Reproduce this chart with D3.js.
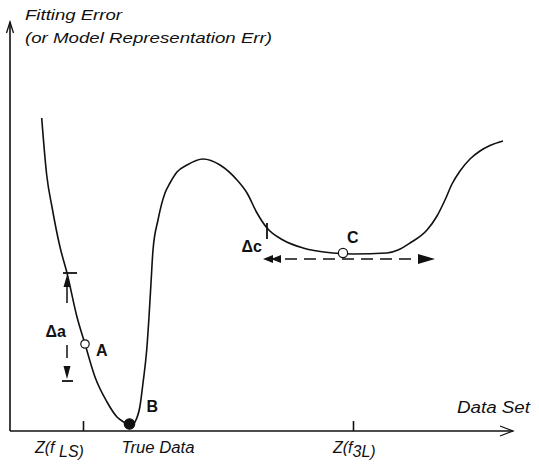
<!DOCTYPE html>
<html><head><meta charset="utf-8">
<script src="https://cdn.jsdelivr.net/npm/d3@7"></script>
<style>
body{margin:0;background:#fff}
svg{display:block}
text{font-family:"Liberation Sans",Arial,Helvetica,sans-serif;fill:#111}
</style>
</head><body>
<svg id="c" width="539" height="464"></svg>
<script>
// ---- data (abstract units: data set position vs fitting error) ----
const curveX = [3.17, 3.67, 4.2, 5.0, 5.7, 6.7, 7.5, 8.5, 9.7, 10.7, 11.5, 12.0, 12.5, 13.0, 13.3, 13.67, 13.9, 14.1, 14.3, 14.8, 15.5, 16.0, 16.7, 17.7, 19.3, 21.0, 22.7, 23.7, 24.7, 25.7, 27.3, 29.3, 32.3, 34.3, 37.7, 38.8, 40.0, 41.7, 42.7, 43.5, 44.2, 45.0, 46.0, 47.0, 48.0, 49.3];
const curveY = [31.3, 25.6, 22.4, 18.4, 15.8, 11.4, 8.7, 5.4, 2.9, 1.4, 0.8, 0.4, 0.9, 2.5, 4.8, 8.1, 11.4, 14.8, 18.1, 21.1, 23.8, 24.8, 25.9, 26.6, 27.2, 26.6, 25.1, 23.8, 21.8, 20.3, 19.1, 18.3, 17.8, 17.7, 17.8, 18.1, 18.8, 20.1, 21.5, 23.1, 24.7, 26.0, 27.2, 28.0, 28.55, 29.0];
const pointNames = ["A", "B", "C"];
const pointX = [7.5, 11.95, 33.3];
const pointY = [8.7, 0.7, 17.8];
const pointFilled = [false, true, false];
const tickValues = [7.3, 34.3];
const tickMain = ["Z(f", "Z(f"];
const tickSub = [" LS)", "3L)"];
const trueDataLabel = "True Data";
const yTitleLines = ["Fitting Error", "(or Model Representation Err)"];
const xTitle = "Data Set";
const deltaAX = 5.7, deltaARange = [15.8, 5.0];
const deltaCY = 17.2, deltaCRange = [25.3, 42.5];
const deltaCTickX = 25.7, deltaCTickRange = [20.5, 19.4];

// ---- scales ----
const svg = d3.select("#c");
const x = d3.scaleLinear().domain([0, 50]).range([10, 510]);
const y = d3.scaleLinear().domain([0, 41]).range([431, 21]);
const ink = "#111";

// ---- axes ----
const xAxis = d3.axisBottom(x).tickValues(tickValues).tickSizeInner(-10).tickSizeOuter(0).tickFormat(() => "");
const gx = svg.append("g").attr("transform", `translate(0,${y(0)})`).call(xAxis);
gx.select(".domain").remove();
gx.selectAll(".tick line").attr("stroke", ink).attr("stroke-width", 1.6);

const axisEndX = x(50.3), axisTopY = y(40.9);
svg.append("line").attr("x1", x(0)).attr("x2", axisEndX).attr("y1", y(0)).attr("y2", y(0))
  .attr("stroke", ink).attr("stroke-width", 1.4);
svg.append("path").attr("d", `M${axisEndX-13},${y(0)-5}L${axisEndX},${y(0)}L${axisEndX-13},${y(0)+5}`)
  .attr("fill", "none").attr("stroke", ink).attr("stroke-width", 1.3);
svg.append("line").attr("x1", x(0)).attr("x2", x(0)).attr("y1", y(0)).attr("y2", axisTopY)
  .attr("stroke", ink).attr("stroke-width", 1.6);
svg.append("path").attr("d", `M${x(0)-3.5},${axisTopY+11}L${x(0)},${axisTopY}L${x(0)+3.5},${axisTopY+11}`)
  .attr("fill", "none").attr("stroke", ink).attr("stroke-width", 1.3);

// axis titles
const tl = [[97, 20], [247, 43]];
yTitleLines.forEach((t, i) => {
  svg.append("text").attr("x", 25).attr("y", tl[i][1]).attr("font-size", 15).attr("font-style", "italic")
    .attr("textLength", tl[i][0]).attr("lengthAdjust", "spacingAndGlyphs").text(t);
});
svg.append("text").attr("x", 457).attr("y", 413).attr("font-size", 16).attr("font-style", "italic")
  .attr("textLength", 73).attr("lengthAdjust", "spacingAndGlyphs").text(xTitle);

// tick labels
const tickDx = [-48, -20];
tickValues.forEach((v, i) => {
  const t = svg.append("text").attr("x", x(v) + tickDx[i]).attr("y", 453).attr("font-size", 16).attr("font-style", "italic");
  t.append("tspan").text(tickMain[i]);
  t.append("tspan").attr("dy", 4).text(tickSub[i]);
});
svg.append("text").attr("x", x(pointX[1]) - 8).attr("y", 453).attr("font-size", 16).attr("font-style", "italic")
  .attr("textLength", 73).attr("lengthAdjust", "spacingAndGlyphs").text(trueDataLabel);

// ---- curve ----
const line = d3.line().x(d => x(d[0])).y(d => y(d[1])).curve(d3.curveMonotoneX);
svg.append("path").datum(d3.zip(curveX, curveY)).attr("d", line)
  .attr("fill", "none").attr("stroke", ink).attr("stroke-width", 1.6);

// ---- points ----
const pr = [4.2, 5.2, 4.6];
pointNames.forEach((n, i) => {
  svg.append("circle").attr("cx", x(pointX[i])).attr("cy", y(pointY[i])).attr("r", pr[i])
    .attr("fill", pointFilled[i] ? ink : "#fff").attr("stroke", ink).attr("stroke-width", 1.2);
});
const labOff = [[11, 12], [17, -12], [4, -10]];
pointNames.forEach((n, i) => {
  svg.append("text").attr("x", x(pointX[i]) + labOff[i][0]).attr("y", y(pointY[i]) + labOff[i][1])
    .attr("font-size", 16).attr("font-weight", "bold").text(n);
});

// ---- delta a (vertical dashed range) ----
const ax = x(deltaAX), aTop = y(deltaARange[0]), aBot = y(deltaARange[1]);
svg.append("line").attr("x1", ax - 4).attr("x2", ax + 10).attr("y1", aTop).attr("y2", aTop).attr("stroke", ink).attr("stroke-width", 1.8);
svg.append("line").attr("x1", ax - 5).attr("x2", ax + 6).attr("y1", aBot).attr("y2", aBot).attr("stroke", ink).attr("stroke-width", 1.8);
svg.append("path").attr("d", `M${ax},${aTop+2}L${ax-3.5},${aTop+14}L${ax+3.5},${aTop+14}Z`).attr("fill", ink);
svg.append("path").attr("d", `M${ax},${aBot-2}L${ax-3.5},${aBot-15}L${ax+3.5},${aBot-15}Z`).attr("fill", ink);
svg.append("line").attr("x1", ax).attr("x2", ax).attr("y1", aTop + 14).attr("y2", aBot - 15)
  .attr("stroke", ink).attr("stroke-width", 1.5).attr("stroke-dasharray", "16,42,13,100");
svg.append("text").attr("x", ax - 1).attr("y", 337).attr("text-anchor", "end").attr("font-size", 16).attr("font-weight", "bold").text("Δa");

// ---- delta c (horizontal dashed range) ----
const cy = y(deltaCY), cL = x(deltaCRange[0]), cR = x(deltaCRange[1]);
svg.append("path").attr("d", `M${cL},${cy}L${cL+10},${cy-4}L${cL+10},${cy+4}Z M${cL+8},${cy}L${cL+18},${cy-4}L${cL+18},${cy+4}Z`).attr("fill", ink);
svg.append("line").attr("x1", cL + 22).attr("x2", cR - 17).attr("y1", cy).attr("y2", cy)
  .attr("stroke", ink).attr("stroke-width", 1.6).attr("stroke-dasharray", "12,7");
svg.append("path").attr("d", `M${cR},${cy}L${cR-17},${cy-5}L${cR-17},${cy+5}Z`).attr("fill", ink);
svg.append("line").attr("x1", x(deltaCTickX)).attr("x2", x(deltaCTickX)).attr("y1", y(deltaCTickRange[0]) - 3).attr("y2", y(deltaCTickRange[1]) + 2)
  .attr("stroke", ink).attr("stroke-width", 1.8);
svg.append("text").attr("x", cL - 1).attr("y", 252).attr("text-anchor", "end").attr("font-size", 16).attr("font-weight", "bold").text("Δc");
</script>
</body></html>
